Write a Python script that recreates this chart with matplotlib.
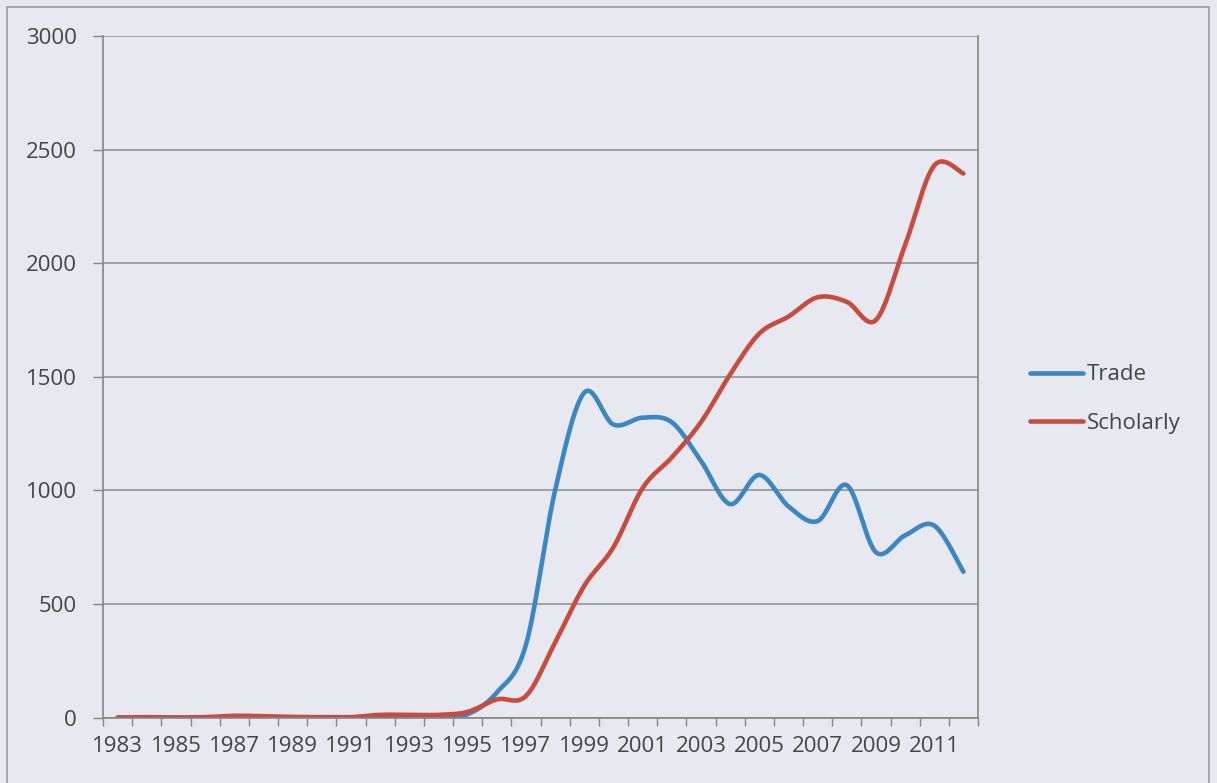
import numpy as np
import matplotlib
matplotlib.use('Agg')
import matplotlib.pyplot as plt
from matplotlib.patches import Rectangle

years = list(range(1983, 2013))
trade = [0, 0, 0, 0, 3, 2, 0, 0, 0, 3, 3, 3, 15, 110, 320, 1000, 1430, 1290,
         1320, 1300, 1130, 940, 1068, 930, 865, 1023, 728, 802, 845, 642]
scholarly = [0, 2, 0, 2, 8, 6, 3, 2, 2, 12, 12, 12, 25, 80, 95, 330, 580, 750,
             1010, 1145, 1300, 1510, 1690, 1765, 1850, 1830, 1750, 2080, 2430, 2395]
series_names = ['Trade', 'Scholarly']
colors = ['#3a87c2', '#c64c40']


def smooth(y, n=30):
    # Excel-style smoothed line (Catmull-Rom -> cubic Bezier)
    y = np.asarray(y, float)
    x = np.arange(len(y), dtype=float)
    px = np.concatenate([[x[0]], x, [x[-1]]])
    py = np.concatenate([[y[0]], y, [y[-1]]])
    t = np.linspace(0, 1, n)[:, None]
    xs, ys = [], []
    for i in range(len(y) - 1):
        p0 = np.array([px[i], py[i]])
        p1 = np.array([px[i + 1], py[i + 1]])
        p2 = np.array([px[i + 2], py[i + 2]])
        p3 = np.array([px[i + 3], py[i + 3]])
        c1 = p1 + (p2 - p0) / 6
        c2 = p2 - (p3 - p1) / 6
        b = ((1 - t) ** 3) * p1 + 3 * ((1 - t) ** 2) * t * c1 + 3 * (1 - t) * t ** 2 * c2 + t ** 3 * p2
        xs.append(b[:, 0])
        ys.append(b[:, 1])
    return np.concatenate(xs), np.concatenate(ys)


plt.rcParams['font.family'] = ['Open Sans', 'DejaVu Sans']
bg = '#e8e8f0'
txt = '#454545'
axc = '#868686'
fs = 16

fig = plt.figure(figsize=(12.17, 7.83), dpi=100, facecolor=bg)
ax = fig.add_axes([103 / 1217, 1 - 717.6 / 783, (978 - 103) / 1217, (717.6 - 36) / 783])
ax.set_facecolor(bg)

fig.patches.append(Rectangle((7 / 1217, -0.05), (1209 - 7) / 1217, 1.05 - 7 / 783,
                             transform=fig.transFigure, fill=False,
                             edgecolor='#9a9aa0', linewidth=1.2, zorder=0))

for name, vals, c in zip(series_names, [trade, scholarly], colors):
    sx, sy = smooth(vals)
    ax.plot(sx, sy, color=c, linewidth=3.3, label=name, solid_capstyle='round')

ax.set_xlim(-0.5, len(years) - 0.5)
ax.set_ylim(0, 3000)
ax.set_yticks(range(0, 3001, 500))
ax.yaxis.grid(True, color='#8c8c8c', linewidth=1.1)
ax.set_axisbelow(True)

ax.set_xticks(range(0, len(years), 2))
ax.set_xticklabels([str(y) for y in years[::2]])
ax.set_xticks(np.arange(-0.5, len(years), 1), minor=True)
ax.tick_params(axis='x', which='major', length=0, pad=13, labelsize=fs, labelcolor=txt)
ax.tick_params(axis='x', which='minor', length=6, width=1, color=axc, direction='out')
ax.tick_params(axis='y', length=7, width=1, color=axc, pad=12, labelsize=fs, labelcolor=txt)

for s in ax.spines.values():
    s.set_color(axc)
    s.set_linewidth(1.2)
ax.spines['top'].set_visible(False)

leg = fig.legend(loc='center left', bbox_to_anchor=(1019 / 1217, 1 - 399 / 783),
                 frameon=False, fontsize=fs, handlelength=2.4, handletextpad=0.15,
                 labelspacing=1.22, borderpad=0)
for t in leg.get_texts():
    t.set_color(txt)

plt.savefig('out.png', dpi=100, facecolor=bg)
